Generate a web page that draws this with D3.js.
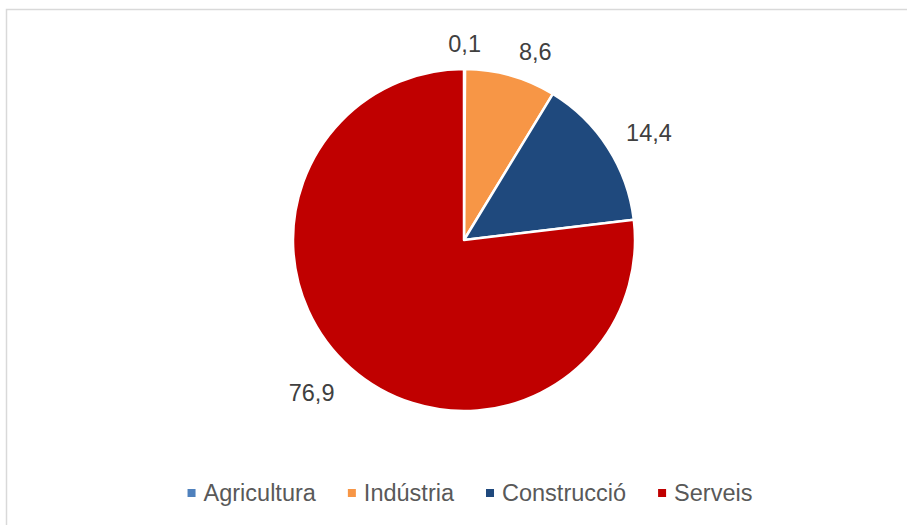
<!DOCTYPE html>
<html>
<head>
<meta charset="utf-8">
<script src="https://cdn.jsdelivr.net/npm/d3@7"></script>
<style>
  html, body { margin: 0; padding: 0; background: #fff; }
  svg { display: block; }
  text { font-family: "Liberation Sans", Arial, sans-serif; }
</style>
</head>
<body>
<svg id="chart" width="907" height="525"></svg>
<script>
const categories = ["Agricultura", "Indústria", "Construcció", "Serveis"];
const values = [0.1, 8.6, 14.4, 76.9];
const labels = ["0,1", "8,6", "14,4", "76,9"];
const colors = ["#4f81bd", "#f79646", "#1f497d", "#c00000"];

const svg = d3.select("#chart");
const W = 907, H = 525;

// chart border
svg.append("rect")
  .attr("x", 6.5).attr("y", 9.5)
  .attr("width", W).attr("height", H)
  .attr("fill", "#fff")
  .attr("stroke", "#d9d9d9")
  .attr("stroke-width", 1.5);

const cx = 464, cy = 240, r = 171;
const data = categories.map((c, i) => ({ cat: c, value: values[i], label: labels[i], color: colors[i] }));

const pie = d3.pie().value(d => d.value).sort(null);
const arcs = pie(data);
const arc = d3.arc().innerRadius(0).outerRadius(r);
const labelArc = d3.arc().innerRadius(r + 24).outerRadius(r + 24);

const g = svg.append("g").attr("transform", `translate(${cx},${cy})`);

g.selectAll("path.slice")
  .data(arcs)
  .join("path")
  .attr("class", "slice")
  .attr("d", arc)
  .attr("fill", d => d.data.color)
  .attr("stroke", "#fff")
  .attr("stroke-width", 2.5)
  .attr("stroke-linejoin", "round");

// data labels
const labelOffsets = [[0, -1], [18, 0], [21, -1], [-23, 7]];
g.selectAll("text.lbl")
  .data(arcs)
  .join("text")
  .attr("class", "lbl")
  .attr("x", (d, i) => labelArc.centroid(d)[0] + labelOffsets[i][0])
  .attr("y", (d, i) => labelArc.centroid(d)[1] + labelOffsets[i][1])
  .attr("text-anchor", "middle")
  .attr("dominant-baseline", "central")
  .attr("font-size", 23.5)
  .attr("fill", "#404040")
  .text(d => d.data.label);

// legend
const legend = svg.append("g");
const items = legend.selectAll("g.item").data(data).join("g").attr("class", "item");
items.append("rect")
  .attr("width", 8).attr("height", 8)
  .attr("y", -4)
  .attr("fill", d => d.color);
items.append("text")
  .attr("x", 16)
  .attr("dominant-baseline", "central")
  .attr("font-size", 23.5)
  .attr("fill", "#595959")
  .text(d => d.cat);

let xPos = 0;
const gap = 32;
items.each(function () {
  const item = d3.select(this);
  const tw = item.select("text").node().getComputedTextLength();
  item.attr("transform", `translate(${xPos},0)`);
  xPos += 16 + tw + gap;
});
const totalW = xPos - gap;
legend.attr("transform", `translate(${470 - totalW / 2},493)`);
</script>
</body>
</html>
